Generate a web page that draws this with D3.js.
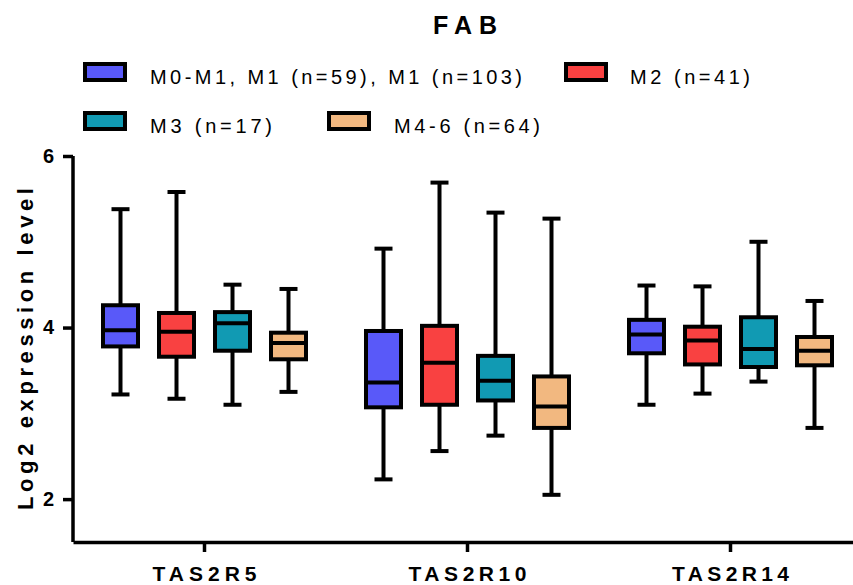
<!DOCTYPE html>
<html>
<head>
<meta charset="utf-8">
<script src="https://cdn.jsdelivr.net/npm/d3@7"></script>
<style>
  body { margin: 0; background: #fff; }
  text { font-family: "Liberation Sans", Arial, sans-serif; fill: #000; }
</style>
</head>
<body>
<svg id="chart" width="853" height="585"></svg>
<script>
// genes on the x axis
const genes = ["TAS2R5", "TAS2R10", "TAS2R14"]
// FAB groups
const groups = ["M0-M1, M1 (n=59), M1 (n=103)", "M2 (n=41)", "M3 (n=17)", "M4-6 (n=64)"]
const colors = ["#5959F9", "#F94141", "#119AB3", "#F2B880"]
// five number summaries [min, q1, median, q3, max], one per gene
const m01 = [[3.22, 3.78, 3.97, 4.26, 5.38], [2.23, 3.07, 3.36, 3.96, 4.92], [3.10, 3.70, 3.92, 4.09, 4.49]]
const m2 = [[3.17, 3.66, 3.95, 4.17, 5.58], [2.56, 3.10, 3.59, 4.02, 5.69], [3.23, 3.57, 3.85, 4.01, 4.48]]
const m3 = [[3.10, 3.73, 4.05, 4.18, 4.50], [2.74, 3.15, 3.38, 3.67, 5.34], [3.37, 3.54, 3.75, 4.12, 5.00]]
const m46 = [[3.25, 3.63, 3.82, 3.94, 4.45], [2.05, 2.83, 3.08, 3.43, 5.27], [2.83, 3.56, 3.73, 3.89, 4.31]]
const yTicks = [2, 4, 6]

const series = [m01, m2, m3, m46]

const svg = d3.select("#chart")

const y = d3.scaleLinear().domain([1.5, 6]).range([542, 156])
const x = d3.scaleBand().domain(genes).range([73, 862])
const xSub = d3.scaleBand().domain(groups).range([-112, 112])
    .paddingInner(0.375).paddingOuter(0.1875)

// title
svg.append("text")
    .attr("x", 465).attr("y", 34)
    .attr("text-anchor", "middle")
    .attr("font-size", 25).attr("font-weight", "bold")
    .attr("textLength", 64).attr("lengthAdjust", "spacing")
    .text("FAB")

// legend
const legendItems = [
    {sx: 85, sy: 64, tx: 150, w: 372},
    {sx: 566, sy: 64, tx: 630, w: 120},
    {sx: 85, sy: 113, tx: 150, w: 122},
    {sx: 329, sy: 113, tx: 394, w: 146}
]
groups.forEach((g, i) => {
    const it = legendItems[i]
    svg.append("rect")
        .attr("x", it.sx).attr("y", it.sy)
        .attr("width", 40).attr("height", 16)
        .attr("fill", colors[i]).attr("stroke", "#000").attr("stroke-width", 4)
    svg.append("text")
        .attr("x", it.tx).attr("y", it.sy + 20)
        .attr("font-size", 20)
        .attr("textLength", it.w).attr("lengthAdjust", "spacing")
        .text(g)
})

// axes
const yAxis = svg.append("g")
    .attr("transform", "translate(73,0)")
    .call(d3.axisLeft(y).tickValues(yTicks).tickFormat(d3.format("d"))
        .tickSize(10).tickSizeOuter(0).tickPadding(9))
yAxis.select(".domain").attr("stroke-width", 3.5).attr("d", `M0,${y(6)}V${y(1.5)}`)
yAxis.selectAll(".tick line").attr("stroke-width", 3.5)
yAxis.selectAll(".tick text")
    .attr("font-size", 20).attr("font-weight", "bold")
    .attr("font-family", "Liberation Sans, Arial, sans-serif")

const xAxis = svg.append("g")
    .attr("transform", "translate(0,542)")
    .call(d3.axisBottom(x).tickSize(10).tickSizeOuter(0).tickPadding(0))
xAxis.select(".domain").attr("stroke-width", 3.5)
xAxis.selectAll(".tick line").attr("stroke-width", 3.5)
const xLabelW = {"TAS2R5": 104, "TAS2R10": 118, "TAS2R14": 117}
xAxis.selectAll(".tick text")
    .attr("font-size", 21).attr("font-weight", "bold")
    .attr("font-family", "Liberation Sans, Arial, sans-serif")
    .attr("y", 39).attr("dy", null)
    .attr("textLength", d => xLabelW[d]).attr("lengthAdjust", "spacing")

// y axis title
svg.append("text")
    .attr("transform", "translate(33,349) rotate(-90)")
    .attr("text-anchor", "middle")
    .attr("font-size", 22).attr("font-weight", "bold")
    .attr("textLength", 322).attr("lengthAdjust", "spacing")
    .text("Log2 expression level")

// boxes
const bw = xSub.bandwidth()
const capW = 18
series.forEach((s, gi) => {
    const grp = svg.append("g")
    s.forEach((d, ci) => {
        const cx = x(genes[ci]) + x.bandwidth() / 2 + xSub(groups[gi]) + bw / 2
        const [mn, q1, md, q3, mx] = d
        const g = grp.append("g").attr("stroke", "#000").attr("stroke-width", 4)
        g.append("line").attr("x1", cx).attr("x2", cx).attr("y1", y(mx)).attr("y2", y(q3))
        g.append("line").attr("x1", cx).attr("x2", cx).attr("y1", y(q1)).attr("y2", y(mn))
        g.append("line").attr("x1", cx - capW / 2).attr("x2", cx + capW / 2).attr("y1", y(mx)).attr("y2", y(mx))
        g.append("line").attr("x1", cx - capW / 2).attr("x2", cx + capW / 2).attr("y1", y(mn)).attr("y2", y(mn))
        g.append("rect")
            .attr("x", cx - bw / 2).attr("y", y(q3))
            .attr("width", bw).attr("height", y(q1) - y(q3))
            .attr("fill", colors[gi])
        g.append("line").attr("x1", cx - bw / 2).attr("x2", cx + bw / 2).attr("y1", y(md)).attr("y2", y(md))
    })
})
</script>
</body>
</html>
